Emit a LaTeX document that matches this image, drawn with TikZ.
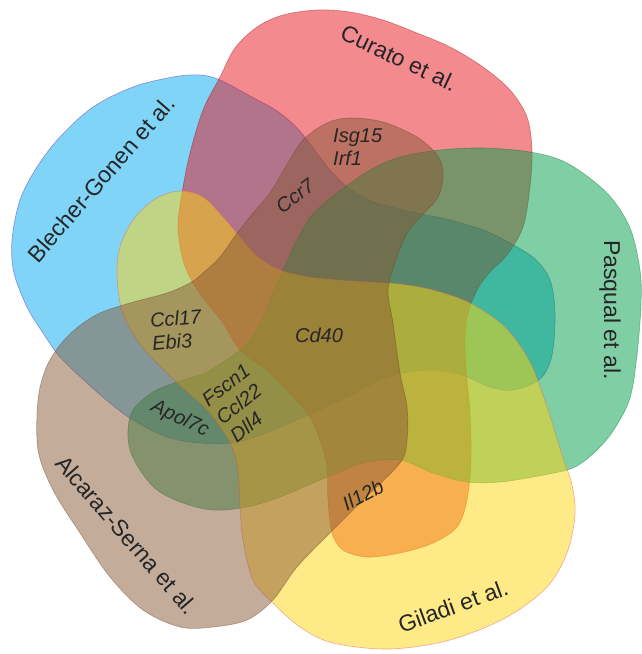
\documentclass[tikz,border=0pt]{standalone}
\usepackage{fontspec}
\setmainfont{Liberation Sans}
\definecolor{cBlue}{RGB}{0,169,239}
\definecolor{cRed}{RGB}{229,21,29}
\definecolor{cGreen}{RGB}{1,157,73}
\definecolor{cYellow}{RGB}{255,213,17}
\definecolor{cBrown}{RGB}{137,89,55}
\definecolor{cBlueEdge}{RGB}{110,100,200}
\tikzset{
  setshape/.style={fill=#1, fill opacity=0.5, draw=#1!75!black, draw opacity=0.45, line width=0.6pt},
  studylab/.style={font=\fontsize{23}{26}\selectfont, text=black!85, inner sep=0pt},
  gene/.style={font=\fontsize{20}{23}\selectfont\itshape, text=black!85, inner sep=0pt, align=left},
}
\begin{document}
\begin{tikzpicture}[x=1pt,y=-1pt]
\useasboundingbox (0,0) rectangle (642,654);
% Blecher-Gonen (blue)
\draw[setshape=cBlue, draw=cBlueEdge, draw opacity=0.7] plot[smooth cycle, tension=0.55] coordinates {
(200,75) (220,80) (250,96) (277,111) (297,128) (313,148) (330,170) (350,189) (377,203) (417,213) (450,220) (483,230) (510,243) (535,259) (550,280) (555,313) (552,355) (540,379) (513,390) (490,387) (465,376) (437,370) (407,372) (380,380) (347,397) (313,413) (287,424) (255,437) (230,443) (200,443) (167,437) (133,420) (110,403) (87,383) (60,357) (43,333) (27,307) (14,273) (12,240) (20,200) (37,167) (60,137) (93,107) (133,87) (173,77)};
% Curato (red)
\draw[setshape=cRed] plot[smooth cycle, tension=0.55] coordinates {
(178,227) (182,193) (190,153) (203,110) (220,77) (235,48) (257,27) (283,15) (317,10) (350,12) (383,20) (417,33) (450,47) (483,67) (510,90) (527,117) (532,150) (530,187) (523,227) (507,255) (490,272) (477,290) (467,317) (465,347) (467,380) (470,413) (471,460) (467,500) (457,527) (433,543) (400,553) (367,557) (343,550) (332,533) (328,500) (327,467) (320,440) (310,417) (293,397) (270,373) (240,350) (223,323) (207,303) (193,283) (183,260)};
% Pasqual (green)
\draw[setshape=cGreen] plot[smooth cycle, tension=0.55] coordinates {
(440,150) (483,148) (530,152) (567,163) (607,193) (630,228) (640,270) (641,305) (637,355) (630,398) (615,428) (600,447) (583,462) (567,470) (533,477) (500,482) (467,482) (433,473) (400,460) (363,463) (330,476) (313,483) (280,497) (247,507) (213,510) (183,503) (157,490) (140,470) (130,450) (128,430) (133,410) (153,392) (180,381) (207,372) (240,350) (252,337) (263,317) (273,293) (283,270) (297,240) (312,215) (337,193) (370,170) (400,157)};
% Giladi (yellow)
\draw[setshape=cYellow, draw=cRed!70, draw opacity=0.5] plot[smooth cycle, tension=0.55] coordinates {
(180,191) (203,197) (223,217) (240,237) (257,256) (280,270) (310,277) (340,280) (370,282) (400,284) (433,290) (470,303) (505,327) (530,362) (547,407) (562,455) (572,485) (575,515) (567,553) (547,587) (507,617) (450,640) (390,649) (333,643) (300,627) (273,603) (253,580) (243,540) (240,507) (238,470) (230,443) (207,410) (177,383) (143,348) (127,323) (120,303) (117,273) (120,247) (133,220) (155,199)};
% Alcaraz-Serna (brown)
\draw[setshape=cBrown] plot[smooth cycle, tension=0.55] coordinates {
(213,627) (247,620) (273,600) (297,567) (330,533) (363,500) (400,463) (407,440) (407,407) (400,373) (393,323) (388,290) (396,260) (407,233) (422,215) (438,197) (443,173) (437,155) (417,137) (383,122) (350,118) (327,123) (303,140) (285,168) (270,193) (253,213) (235,236) (220,257) (203,273) (190,283) (167,293) (130,303) (100,313) (78,327) (60,345) (46,368) (38,400) (38,450) (53,490) (80,533) (110,577) (143,610) (180,627)};
% study labels
\node[studylab, rotate=-25] (curato) at (399,58) {Curato et al.};
\node[studylab, rotate=49] (blecher) at (101,179) {Blecher-Gonen et al.};
\node[studylab, rotate=-90] (pasqual) at (610,310) {Pasqual et al.};
\node[studylab, rotate=20] (giladi) at (453,606) {Giladi et al.};
\node[studylab, rotate=-49] (alcaraz) at (127,535) {Alcaraz-Serna et al.};
% gene labels
\node[gene, anchor=west] (isg) at (333,147) {Isg15\\Irf1};
\node[gene, rotate=37] (ccr7) at (295,196) {Ccr7};
\node[gene, rotate=5, anchor=west] (ccl17) at (151,332) {Ccl17\\Ebi3};
\node[gene] (cd40) at (319,335) {Cd40};
\node[gene, rotate=38] (fscn) at (240,403) {Fscn1\\Ccl22\\Dll4};
\node[gene, rotate=-25] (apol) at (180,419) {Apol7c};
\node[gene, rotate=28] (il12b) at (363,495) {Il12b};
\end{tikzpicture}
\end{document}
